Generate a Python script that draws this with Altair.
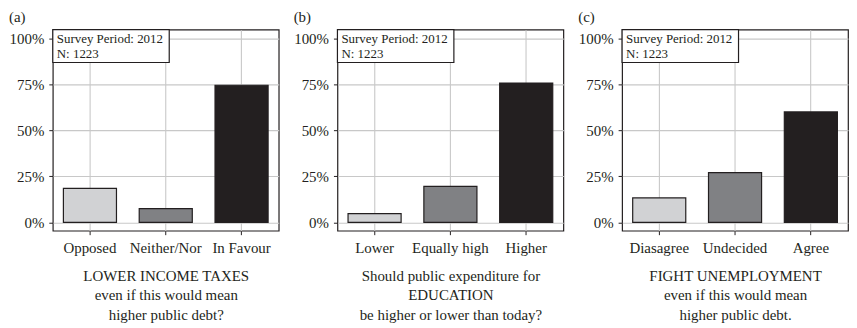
import altair as alt
import pandas as pd

# ---- data ----
panel_labels = ["(a)", "(b)", "(c)"]
categories_a = ["Opposed", "Neither/Nor", "In Favour"]
values_a = [0.185, 0.075, 0.745]
categories_b = ["Lower", "Equally high", "Higher"]
values_b = [0.048, 0.196, 0.757]
categories_c = ["Diasagree", "Undecided", "Agree"]
values_c = [0.133, 0.27, 0.60]
titles_a = ["LOWER INCOME TAXES", "even if this would mean", "higher public debt?"]
titles_b = ["Should public expenditure for", "EDUCATION", "be higher or lower than today?"]
titles_c = ["FIGHT UNEMPLOYMENT", "even if this would mean", "higher public debt."]
survey_period = "2012"
n_obs = 1223
y_ticks = [0, 0.25, 0.5, 0.75, 1.0]

fills = ["#d1d2d4", "#808184", "#231f20"]
dark = "#231f20"
FONT = "Liberation Serif"
W, H = 227, 202


def panel(label, cats, vals, xtitle):
    df = pd.DataFrame({"cat": cats, "val": vals})
    bars = alt.Chart(df).mark_bar(stroke=dark, strokeWidth=1.2).encode(
        x=alt.X("cat:N", sort=cats, title=xtitle,
                scale=alt.Scale(paddingInner=0.3, paddingOuter=0.14),
                axis=alt.Axis(labelAngle=0, bandPosition=0.5, grid=True,
                              titleLineHeight=19.5, titlePadding=13)),
        y=alt.Y("val:Q", title=None,
                scale=alt.Scale(domain=[-0.045, 1.047], nice=False, zero=False),
                axis=alt.Axis(values=y_ticks, format=".0%", grid=True)),
        color=alt.Color("cat:N", scale=alt.Scale(domain=cats, range=fills), legend=None),
    )
    info = pd.DataFrame({"txt": [f"Survey Period: {survey_period}\nN: {n_obs}"]})
    box = alt.Chart(info).mark_rect(fill="white", stroke=dark, strokeWidth=1.2).encode(
        x=alt.value(0), x2=alt.value(117), y=alt.value(0), y2=alt.value(33)
    )
    txt = alt.Chart(info).mark_text(
        align="left", baseline="middle", font=FONT, fontSize=13, color=dark,
        lineBreak="\n", lineHeight=15.5
    ).encode(x=alt.value(4), y=alt.value(9), text="txt:N")
    return alt.layer(bars, box, txt).properties(
        width=W, height=H,
        title=alt.TitleParams(label, anchor="start", font=FONT, fontSize=15,
                              fontWeight="normal", color=dark, offset=4),
    )


chart = alt.hconcat(
    panel(panel_labels[0], categories_a, values_a, titles_a),
    panel(panel_labels[1], categories_b, values_b, titles_b),
    panel(panel_labels[2], categories_c, values_c, titles_c),
    spacing=13,
).properties(padding=0).configure_view(
    stroke=dark, strokeWidth=1.2
).configure_axis(
    labelFont=FONT, labelFontSize=15, labelColor=dark,
    titleFont=FONT, titleFontSize=15, titleFontWeight="normal", titleColor=dark,
    gridColor="#c8c8c8", gridWidth=1.1, domain=False,
    tickColor=dark, tickSize=4, labelPadding=6,
).configure_axisY(labelPadding=5)

chart.save("out.html", embed_options={"renderer": "svg", "actions": False})
